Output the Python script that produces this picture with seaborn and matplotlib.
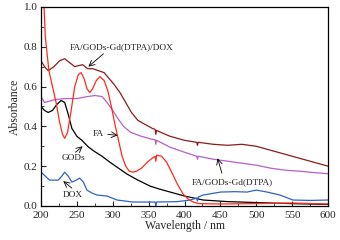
import pandas as pd
import matplotlib
matplotlib.use("Agg")
import matplotlib.pyplot as plt
from matplotlib.ticker import MultipleLocator, FormatStrFormatter
import seaborn as sns

# -------------------------
# Absorbance spectra (wavelength in nm)
# -------------------------
fa_wl = [200, 203, 206, 211, 216, 221, 226, 230, 233, 237, 242, 247, 252, 256, 260, 264, 268,
         272, 277, 282, 288, 293, 298, 303, 308, 313, 318, 323, 328, 333, 340, 348, 355, 359,
         360, 361, 368, 375, 382, 390, 398, 405, 412, 420, 450, 500, 550, 600]
fa_abs = [1.5, 1.1, 0.85, 0.68, 0.6, 0.52, 0.42, 0.36, 0.34, 0.37, 0.48, 0.6, 0.66, 0.67, 0.64,
          0.59, 0.57, 0.59, 0.63, 0.65, 0.63, 0.58, 0.5, 0.41, 0.33, 0.25, 0.2, 0.175, 0.17,
          0.175, 0.19, 0.22, 0.24, 0.25, 0.225, 0.255, 0.25, 0.22, 0.17, 0.11, 0.06, 0.035,
          0.02, 0.012, 0.01, 0.012, 0.015, 0.01]

dox_mix_wl = [200, 205, 210, 218, 226, 233, 240, 247, 252, 258, 265, 272, 280, 288, 295, 302,
              310, 318, 326, 335, 345, 355, 359, 360, 361, 370, 380, 400, 417, 418, 419, 440,
              460, 480, 500, 520, 540, 560, 580, 600]
dox_mix_abs = [0.73, 0.70, 0.68, 0.70, 0.73, 0.74, 0.72, 0.70, 0.705, 0.71, 0.69, 0.69, 0.68,
               0.67, 0.64, 0.61, 0.57, 0.52, 0.47, 0.43, 0.41, 0.39, 0.385, 0.36, 0.38, 0.365,
               0.35, 0.33, 0.32, 0.305, 0.32, 0.31, 0.305, 0.31, 0.30, 0.28, 0.26, 0.24, 0.22,
               0.20]

gd_wl = [200, 205, 210, 220, 235, 250, 265, 275, 285, 292, 300, 307, 315, 325, 340, 355, 359,
         360, 361, 380, 400, 417, 418, 419, 440, 460, 480, 500, 520, 540, 560, 580, 600]
gd_abs = [0.55, 0.52, 0.525, 0.535, 0.54, 0.54, 0.55, 0.555, 0.55, 0.52, 0.48, 0.44, 0.40,
          0.37, 0.35, 0.335, 0.333, 0.31, 0.33, 0.295, 0.27, 0.25, 0.235, 0.25, 0.235, 0.225,
          0.215, 0.205, 0.19, 0.18, 0.175, 0.168, 0.162]

gods_wl = [200, 205, 210, 216, 222, 228, 233, 238, 243, 250, 257, 265, 272, 285, 296, 308, 320,
           335, 352, 365, 380, 400, 426, 460, 519, 560, 600]
gods_abs = [0.50, 0.48, 0.47, 0.48, 0.51, 0.53, 0.52, 0.46, 0.39, 0.35, 0.33, 0.30, 0.28, 0.25,
            0.22, 0.19, 0.16, 0.13, 0.10, 0.085, 0.07, 0.05, 0.03, 0.022, 0.015, 0.011, 0.008]

dox_wl = [200, 206, 212, 218, 224, 229, 233, 238, 243, 249, 254, 259, 264, 271, 278, 292, 306,
          328, 359, 360, 361, 390, 408, 417, 418, 419, 426, 450, 470, 487, 500, 515, 533, 551,
          575, 600]
dox_abs = [0.17, 0.15, 0.13, 0.13, 0.13, 0.15, 0.17, 0.15, 0.12, 0.13, 0.14, 0.12, 0.08, 0.065,
           0.055, 0.05, 0.03, 0.02, 0.02, 0.0, 0.02, 0.022, 0.03, 0.04, 0.025, 0.045, 0.055,
           0.07, 0.072, 0.07, 0.08, 0.07, 0.055, 0.03, 0.028, 0.03]

sns.set_style("ticks")
plt.rcParams['font.family'] = ['Liberation Serif', 'DejaVu Serif']

fig = plt.figure(figsize=(3.4, 2.4), dpi=100)
ax = fig.add_axes([0.1206, 0.1417, 0.8444, 0.8292])

lw = 0.9
sns.lineplot(x=gods_wl, y=gods_abs, color='black', linewidth=lw, ax=ax)
sns.lineplot(x=dox_wl, y=dox_abs, color='#2f62c4', linewidth=lw, ax=ax)
sns.lineplot(x=gd_wl, y=gd_abs, color='#b660c8', linewidth=lw, ax=ax)
sns.lineplot(x=dox_mix_wl, y=dox_mix_abs, color='#8b1c1c', linewidth=lw, ax=ax)
sns.lineplot(x=fa_wl, y=fa_abs, color='#ff2a1a', linewidth=lw, ax=ax)

ax.set_xlim(200, 600)
ax.set_ylim(0, 1.0)
ax.xaxis.set_major_locator(MultipleLocator(50))
ax.xaxis.set_minor_locator(MultipleLocator(25))
ax.yaxis.set_major_locator(MultipleLocator(0.2))
ax.yaxis.set_minor_locator(MultipleLocator(0.1))
ax.yaxis.set_major_formatter(FormatStrFormatter('%.1f'))
ax.tick_params(which='major', direction='in', length=3.5, width=0.8, labelsize=8)
ax.tick_params(axis='x', which='major', pad=3.5)
ax.tick_params(axis='y', which='major', pad=2.5)
ax.tick_params(which='minor', direction='in', length=2, width=0.6)
for s in ax.spines.values():
    s.set_linewidth(0.9)
    s.set_color('black')

ax.set_xlabel("Wavelength / nm", fontsize=8.5, labelpad=0)
ax.set_ylabel("Absorbance", fontsize=8.5, labelpad=2)

# -------------------------
# Curve labels with arrows
# -------------------------
arw = dict(arrowstyle='->', color='black', lw=0.6, shrinkA=0, shrinkB=0)
ax.text(240, 0.80, "FA/GODs-Gd(DTPA)/DOX", fontsize=6.7, ha='left', va='center')
ax.annotate("", xy=(266, 0.70), xytext=(287, 0.765), arrowprops=arw)
ax.text(272, 0.36, "FA", fontsize=6.7, ha='left', va='center')
ax.annotate("", xy=(307, 0.355), xytext=(293, 0.36), arrowprops=arw)
ax.text(229, 0.24, "GODs", fontsize=6.7, ha='left', va='center')
ax.annotate("", xy=(258, 0.30), xytext=(248, 0.27), arrowprops=arw)
ax.text(231, 0.055, "DOX", fontsize=6.7, ha='left', va='center')
ax.annotate("", xy=(231, 0.125), xytext=(243, 0.09), arrowprops=arw)
ax.text(410, 0.12, "FA/GODs-Gd(DTPA)", fontsize=6.7, ha='left', va='center')
ax.annotate("", xy=(446, 0.24), xytext=(452, 0.165), arrowprops=arw)

fig.savefig("out.png", dpi=100)
